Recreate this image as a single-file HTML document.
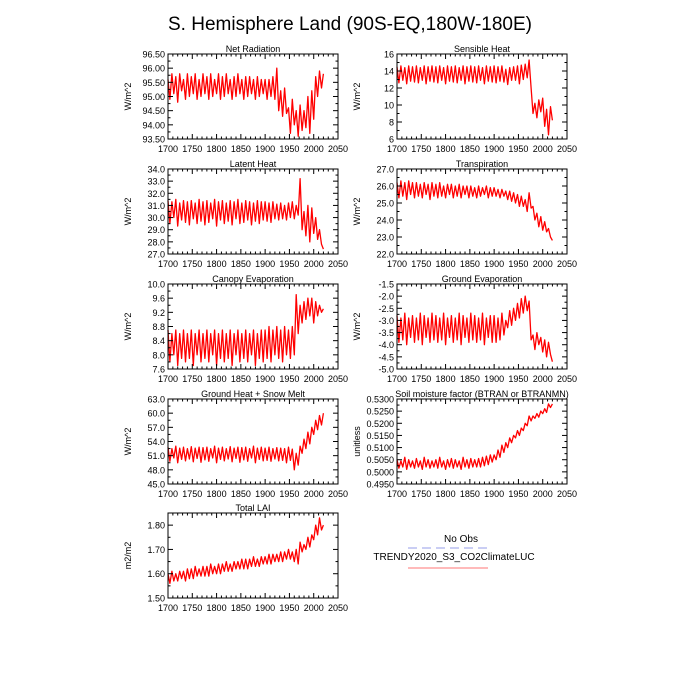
<!DOCTYPE html>
<html><head><meta charset="utf-8"><style>
body{margin:0;background:#fff}
svg{display:block;font-family:"Liberation Sans",sans-serif}
</style></head><body>
<svg id="chart" width="700" height="700" viewBox="0 0 700 700">
<text x="350" y="30" font-size="19" text-anchor="middle">S. Hemisphere Land (90S-EQ,180W-180E)</text>
<g>
<text x="461" y="542" font-size="10" text-anchor="middle">No Obs</text>
<line x1="408" y1="548" x2="488" y2="548" stroke="#aab0ee" stroke-width="1.2" stroke-dasharray="9,5"/>
<text x="454" y="560" font-size="10" text-anchor="middle">TRENDY2020_S3_CO2ClimateLUC</text>
<line x1="408" y1="568" x2="488" y2="568" stroke="#ff9090" stroke-width="1.2"/>
</g>
</svg>
<script>
const startYear = 1700, yearStep = 4;
const xTicks = [1700,1750,1800,1850,1900,1950,2000,2050];
const netRad = [95.6,94.9,95.8,95.1,95.7,94.8,95.8,95.2,95.6,94.9,
95.8,95.0,95.7,95.1,95.8,94.9,95.6,95.0,95.8,95.1,
95.7,94.9,95.8,95.0,95.6,95.1,95.8,94.9,95.7,95.0,
95.8,95.1,95.6,94.9,95.7,95.0,95.8,95.1,95.6,94.9,
95.7,95.0,95.7,95.1,95.6,94.9,95.7,95.0,95.6,95.1,
95.6,94.9,95.6,95.0,95.7,94.9,96.0,94.5,95.2,94.3,
95.3,94.4,94.6,93.7,94.9,94.0,94.5,93.6,94.7,93.8,
94.5,93.9,95.0,93.7,95.2,94.2,95.7,95.0,95.9,95.3,95.8];
const sensible = [14.5,12.6,14.6,12.9,14.4,12.5,14.6,12.8,14.5,12.7,
14.6,12.6,14.4,12.9,14.6,12.5,14.5,12.8,14.6,12.7,
14.5,12.6,14.6,12.9,14.4,12.5,14.6,12.8,14.5,12.7,
14.6,12.6,14.4,12.9,14.6,12.5,14.5,12.8,14.6,12.7,
14.5,12.6,14.6,12.9,14.4,12.5,14.6,12.8,14.5,12.7,
14.6,12.6,14.5,12.8,14.6,12.7,14.2,12.4,14.4,12.9,
14.5,12.9,14.6,12.5,14.7,13.0,14.8,13.2,15.3,12.0,
9.0,10.2,8.5,10.6,9.2,10.8,7.5,9.5,6.5,9.8,8.2];
const latent = [31.4,29.5,31.3,30.0,31.5,29.3,31.2,29.8,31.4,29.6,
31.3,29.4,31.4,29.9,31.2,29.5,31.5,29.7,31.3,29.4,
31.4,29.6,31.2,29.9,31.5,29.3,31.3,29.8,31.4,29.5,
31.2,29.7,31.4,29.4,31.3,29.9,31.5,29.5,31.2,29.6,
31.4,29.8,31.3,29.4,31.2,29.7,31.4,29.5,31.3,29.8,
31.3,29.7,31.2,29.6,31.3,29.9,31.1,29.8,31.2,29.9,
31.0,29.8,31.2,30.0,31.3,29.9,31.0,30.2,33.2,29.0,
30.5,28.5,31.0,28.0,30.8,28.7,30.0,28.2,29.0,27.8,27.4];
const transp = [26.2,25.3,26.3,25.4,26.2,25.2,26.3,25.5,26.2,25.3,
26.2,25.4,26.1,25.3,26.2,25.5,26.1,25.2,26.2,25.4,
26.1,25.3,26.2,25.4,26.0,25.3,26.1,25.5,26.1,25.3,
26.0,25.4,26.1,25.3,26.0,25.5,26.0,25.3,26.0,25.4,
25.9,25.3,26.0,25.4,25.9,25.5,26.0,25.3,25.9,25.4,
25.9,25.4,25.8,25.3,25.8,25.4,25.7,25.2,25.7,25.1,
25.6,25.0,25.5,24.8,25.4,24.8,25.2,24.5,25.6,24.7,
24.8,24.0,24.4,23.6,24.2,23.4,23.9,23.3,23.5,23.0,22.8];
const canopy = [8.7,7.8,8.6,8.0,8.7,7.7,8.6,7.9,8.7,7.8,
8.6,7.9,8.7,7.7,8.6,8.0,8.7,7.8,8.6,7.9,
8.7,7.8,8.6,8.0,8.7,7.7,8.6,7.9,8.7,7.8,
8.6,7.9,8.7,7.7,8.6,8.0,8.7,7.8,8.6,7.9,
8.7,7.8,8.6,8.0,8.7,7.7,8.6,7.9,8.7,7.8,
8.7,7.9,8.8,7.8,8.7,8.0,8.8,7.9,8.7,7.8,
8.8,8.0,8.7,7.9,8.8,8.0,9.7,8.6,9.4,8.9,
9.5,9.0,9.6,9.1,9.6,8.9,9.5,9.1,9.4,9.2,9.3];
const groundEvap = [-2.8,-3.9,-2.9,-3.8,-2.7,-4.0,-2.9,-3.7,-2.8,-3.9,
-2.9,-3.8,-2.7,-4.0,-2.8,-3.7,-2.9,-3.9,-2.7,-3.8,
-2.8,-3.9,-2.9,-3.8,-2.7,-4.0,-2.9,-3.7,-2.8,-3.9,
-2.9,-3.8,-2.7,-4.0,-2.8,-3.7,-2.9,-3.9,-2.7,-3.8,
-2.8,-3.9,-2.9,-3.8,-2.7,-4.0,-2.9,-3.7,-2.8,-3.9,
-2.8,-3.9,-2.9,-3.8,-2.7,-3.6,-3.0,-3.3,-2.6,-3.2,
-2.5,-3.0,-2.3,-2.9,-2.1,-2.7,-2.0,-2.6,-2.2,-3.8,
-3.6,-4.2,-3.5,-4.0,-3.7,-4.3,-3.8,-4.5,-3.9,-4.4,-4.7];
const groundHeat = [52.8,49.8,52.5,50.5,53.0,49.5,52.6,50.2,52.8,49.9,
52.5,50.3,52.9,49.7,52.6,50.4,52.8,49.6,52.7,50.1,
52.8,49.8,52.5,50.5,53.0,49.5,52.6,50.2,52.8,49.9,
52.5,50.3,52.9,49.7,52.6,50.4,52.8,49.6,52.7,50.1,
52.8,49.8,52.5,50.5,53.0,49.5,52.6,50.2,52.8,49.9,
52.6,50.0,52.8,49.8,52.5,50.3,52.7,49.9,52.6,50.0,
52.5,49.5,52.8,50.0,52.4,48.0,51.5,49.0,53.0,51.5,
54.5,52.5,56.0,53.5,57.0,55.5,58.5,56.5,59.5,57.5,60.0];
const soil = [0.5050,0.5015,0.5045,0.5020,0.5060,0.5010,0.5050,0.5020,0.5045,0.5015,
0.5055,0.5020,0.5045,0.5010,0.5060,0.5020,0.5050,0.5015,0.5045,0.5020,
0.5050,0.5015,0.5060,0.5020,0.5045,0.5010,0.5050,0.5020,0.5055,0.5015,
0.5050,0.5020,0.5045,0.5010,0.5060,0.5020,0.5050,0.5015,0.5055,0.5020,
0.5050,0.5020,0.5055,0.5020,0.5060,0.5025,0.5065,0.5030,0.5070,0.5040,
0.5070,0.5050,0.5090,0.5060,0.5110,0.5080,0.5120,0.5100,0.5140,0.5120,
0.5150,0.5140,0.5170,0.5150,0.5180,0.5170,0.5200,0.5190,0.5230,0.5210,
0.5230,0.5220,0.5240,0.5225,0.5250,0.5240,0.5260,0.5245,0.5280,0.5265,0.5280];
const lai = [1.60,1.56,1.61,1.57,1.60,1.57,1.61,1.58,1.61,1.57,
1.62,1.58,1.62,1.58,1.63,1.59,1.62,1.59,1.63,1.59,
1.63,1.59,1.64,1.60,1.63,1.60,1.64,1.60,1.64,1.61,
1.65,1.61,1.64,1.61,1.65,1.62,1.65,1.62,1.66,1.62,
1.66,1.62,1.66,1.63,1.67,1.63,1.66,1.63,1.67,1.64,
1.67,1.64,1.68,1.64,1.68,1.65,1.68,1.65,1.69,1.65,
1.69,1.66,1.70,1.66,1.69,1.65,1.70,1.64,1.73,1.69,
1.72,1.70,1.75,1.71,1.76,1.74,1.80,1.76,1.83,1.78,1.80];

const panels = [
 {name:'net-radiation',title:'Net Radiation',unit:'W/m^2',data:netRad,ymin:93.5,ymax:96.5,step:0.5,dec:2,col:0,row:0},
 {name:'sensible-heat',title:'Sensible Heat',unit:'W/m^2',data:sensible,ymin:6,ymax:16,step:2,dec:0,col:1,row:0},
 {name:'latent-heat',title:'Latent Heat',unit:'W/m^2',data:latent,ymin:27,ymax:34,step:1,dec:1,col:0,row:1},
 {name:'transpiration',title:'Transpiration',unit:'W/m^2',data:transp,ymin:22,ymax:27,step:1,dec:1,col:1,row:1},
 {name:'canopy-evaporation',title:'Canopy Evaporation',unit:'W/m^2',data:canopy,ymin:7.6,ymax:10,step:0.4,dec:1,col:0,row:2},
 {name:'ground-evaporation',title:'Ground Evaporation',unit:'W/m^2',data:groundEvap,ymin:-5,ymax:-1.5,step:0.5,dec:1,col:1,row:2},
 {name:'ground-heat',title:'Ground Heat + Snow Melt',unit:'W/m^2',data:groundHeat,ymin:45,ymax:63,step:3,dec:1,col:0,row:3},
 {name:'soil-moisture',title:'Soil moisture factor (BTRAN or BTRANMN)',unit:'unitless',data:soil,ymin:0.495,ymax:0.53,step:0.005,dec:4,col:1,row:3},
 {name:'total-lai',title:'Total LAI',unit:'m2/m2',data:lai,ymin:1.5,ymax:1.85,step:0.1,dec:2,col:0,row:4}
];
const svg = document.getElementById('chart');
const NS = 'http://www.w3.org/2000/svg';
function mk(tag, attrs, parent){const e=document.createElementNS(NS,tag);for(const k in attrs)e.setAttribute(k,attrs[k]);parent.appendChild(e);return e;}
const colX=[168,397], rowY=[54,169,284,399,513], PW=170, PH=85;
panels.forEach(p=>{
 const x0=colX[p.col], y0=rowY[p.row];
 const g=mk('g',{},svg);
 
 
 const xs=v=>x0+(v-1700)/(2050-1700)*PW;
 const ys=v=>y0+PH-(v-p.ymin)/(p.ymax-p.ymin)*PH;
 const t=mk('text',{x:x0+PW/2,y:y0-2,'font-size':9,'text-anchor':'middle'},g);
 t.textContent=p.title;
 
 
 let d='';
 p.data.forEach((v,i)=>{d+=(i?'L':'M')+xs(startYear+i*yearStep).toFixed(1)+','+ys(v).toFixed(1);});
 const path=mk('path',{d:d,fill:'none',stroke:'#ff0000','stroke-width':1.3,'stroke-linejoin':'round'},g);
 
 
 const fr=mk('rect',{x:x0,y:y0,width:PW,height:PH,fill:'none',stroke:'#000','stroke-width':1},g);
 
 
 xTicks.forEach(v=>{
  const X=xs(v);
  mk('line',{x1:X,y1:y0+PH,x2:X,y2:y0+PH-5,stroke:'#000'},g);
  mk('line',{x1:X,y1:y0,x2:X,y2:y0+5,stroke:'#000'},g);
  const tl=mk('text',{x:X,y:y0+PH+13,'font-size':9,'text-anchor':'middle'},g);
  tl.textContent=v;
  
  
 });
 for(let v=1710;v<2050;v+=10){ if(v%50){const X=xs(v);
  mk('line',{x1:X,y1:y0+PH,x2:X,y2:y0+PH-2.5,stroke:'#000'},g);
  mk('line',{x1:X,y1:y0,x2:X,y2:y0+2.5,stroke:'#000'},g);}}
 const n=Math.floor((p.ymax-p.ymin)/p.step+1e-6);
 for(let k=0;k<=n;k++){
  const v=p.ymin+k*p.step, Y=ys(v);
  mk('line',{x1:x0,y1:Y,x2:x0+5,y2:Y,stroke:'#000'},g);
  mk('line',{x1:x0+PW,y1:Y,x2:x0+PW-5,y2:Y,stroke:'#000'},g);
  const tl=mk('text',{x:x0-3,y:Y+3.5,'font-size':9,'text-anchor':'end'},g);
  tl.textContent=v.toFixed(p.dec);
  
  
  const Ym=ys(v+p.step/2);
  if(v+p.step/2<=p.ymax+1e-9){
   mk('line',{x1:x0,y1:Ym,x2:x0+2.5,y2:Ym,stroke:'#000'},g);
   mk('line',{x1:x0+PW,y1:Ym,x2:x0+PW-2.5,y2:Ym,stroke:'#000'},g);}
 }
 const ut=mk('text',{x:0,y:0,'font-size':9,'text-anchor':'middle',transform:'translate('+(x0-37)+','+(y0+PH/2)+') rotate(-90)'},g);
 ut.textContent=p.unit;
 
 
});
</script>
</body></html>
